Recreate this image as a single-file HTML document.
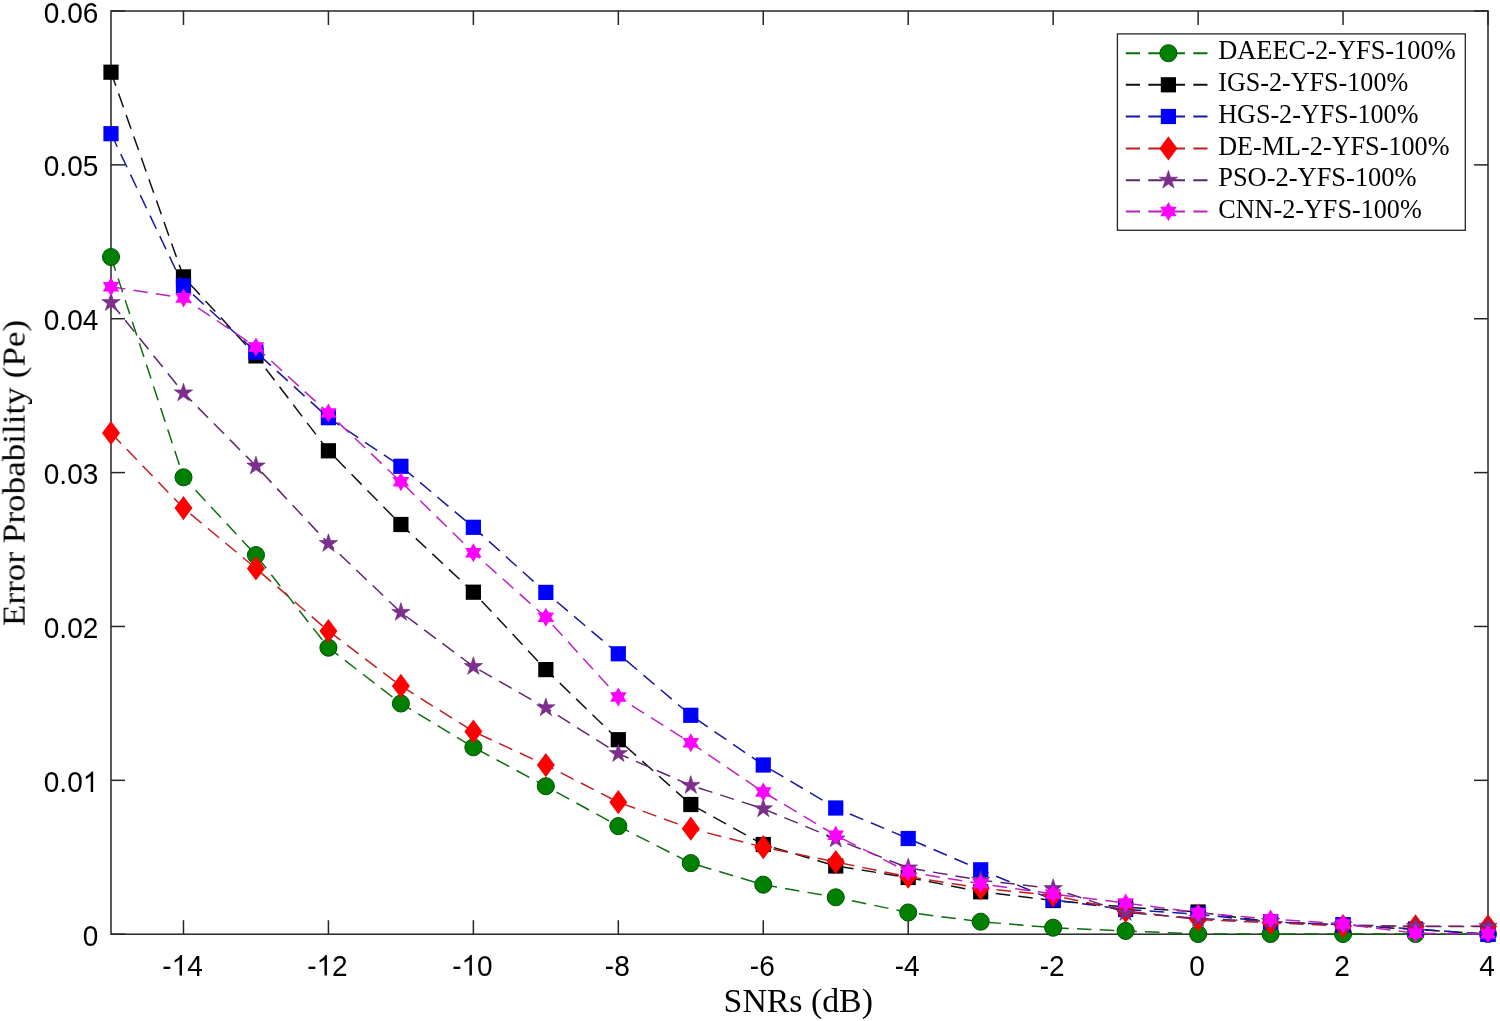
<!DOCTYPE html><html><head><meta charset="utf-8"><style>html,body{margin:0;padding:0;background:#fff;}svg{display:block;}</style></head><body>
<svg width="1500" height="1021" viewBox="0 0 1500 1021">
<rect width="1500" height="1021" fill="#ffffff"/>
<g stroke="#262626" stroke-width="1.5" fill="none">
<rect x="111.0" y="11.0" width="1377.0" height="923.2"/>
<line x1="183.47" y1="934.20" x2="183.47" y2="920.20"/>
<line x1="183.47" y1="11.00" x2="183.47" y2="25.00"/>
<line x1="328.42" y1="934.20" x2="328.42" y2="920.20"/>
<line x1="328.42" y1="11.00" x2="328.42" y2="25.00"/>
<line x1="473.37" y1="934.20" x2="473.37" y2="920.20"/>
<line x1="473.37" y1="11.00" x2="473.37" y2="25.00"/>
<line x1="618.32" y1="934.20" x2="618.32" y2="920.20"/>
<line x1="618.32" y1="11.00" x2="618.32" y2="25.00"/>
<line x1="763.26" y1="934.20" x2="763.26" y2="920.20"/>
<line x1="763.26" y1="11.00" x2="763.26" y2="25.00"/>
<line x1="908.21" y1="934.20" x2="908.21" y2="920.20"/>
<line x1="908.21" y1="11.00" x2="908.21" y2="25.00"/>
<line x1="1053.16" y1="934.20" x2="1053.16" y2="920.20"/>
<line x1="1053.16" y1="11.00" x2="1053.16" y2="25.00"/>
<line x1="1198.11" y1="934.20" x2="1198.11" y2="920.20"/>
<line x1="1198.11" y1="11.00" x2="1198.11" y2="25.00"/>
<line x1="1343.05" y1="934.20" x2="1343.05" y2="920.20"/>
<line x1="1343.05" y1="11.00" x2="1343.05" y2="25.00"/>
<line x1="1488.00" y1="934.20" x2="1488.00" y2="920.20"/>
<line x1="1488.00" y1="11.00" x2="1488.00" y2="25.00"/>
<line x1="111.00" y1="934.20" x2="125.00" y2="934.20"/>
<line x1="1488.00" y1="934.20" x2="1474.00" y2="934.20"/>
<line x1="111.00" y1="780.33" x2="125.00" y2="780.33"/>
<line x1="1488.00" y1="780.33" x2="1474.00" y2="780.33"/>
<line x1="111.00" y1="626.47" x2="125.00" y2="626.47"/>
<line x1="1488.00" y1="626.47" x2="1474.00" y2="626.47"/>
<line x1="111.00" y1="472.60" x2="125.00" y2="472.60"/>
<line x1="1488.00" y1="472.60" x2="1474.00" y2="472.60"/>
<line x1="111.00" y1="318.73" x2="125.00" y2="318.73"/>
<line x1="1488.00" y1="318.73" x2="1474.00" y2="318.73"/>
<line x1="111.00" y1="164.87" x2="125.00" y2="164.87"/>
<line x1="1488.00" y1="164.87" x2="1474.00" y2="164.87"/>
<line x1="111.00" y1="11.00" x2="125.00" y2="11.00"/>
<line x1="1488.00" y1="11.00" x2="1474.00" y2="11.00"/>
</g>
<g font-family="Liberation Sans, sans-serif" font-size="28" fill="#000" style="will-change:opacity">
<text transform="translate(162.24,975.50) scale(1,1.050)">-</text><path transform="translate(171.56,975.50) scale(0.01367,-0.01436)" d="M763 0L583 0L583 1110Q518 1050 413 990Q309 930 223 900L223 1070Q378 1140 494 1240Q610 1340 658 1420L763 1420Z"/><text transform="translate(187.14,975.50) scale(1,1.050)">4</text>
<text transform="translate(307.19,975.50) scale(1,1.050)">-</text><path transform="translate(316.51,975.50) scale(0.01367,-0.01436)" d="M763 0L583 0L583 1110Q518 1050 413 990Q309 930 223 900L223 1070Q378 1140 494 1240Q610 1340 658 1420L763 1420Z"/><text transform="translate(332.08,975.50) scale(1,1.050)">2</text>
<text transform="translate(452.13,975.50) scale(1,1.050)">-</text><path transform="translate(461.46,975.50) scale(0.01367,-0.01436)" d="M763 0L583 0L583 1110Q518 1050 413 990Q309 930 223 900L223 1070Q378 1140 494 1240Q610 1340 658 1420L763 1420Z"/><text transform="translate(477.03,975.50) scale(1,1.050)">0</text>
<text transform="translate(604.87,975.50) scale(1,1.050)">-</text><text transform="translate(614.19,975.50) scale(1,1.050)">8</text>
<text transform="translate(749.81,975.50) scale(1,1.050)">-</text><text transform="translate(759.14,975.50) scale(1,1.050)">6</text>
<text transform="translate(894.76,975.50) scale(1,1.050)">-</text><text transform="translate(904.09,975.50) scale(1,1.050)">4</text>
<text transform="translate(1039.71,975.50) scale(1,1.050)">-</text><text transform="translate(1049.03,975.50) scale(1,1.050)">2</text>
<text transform="translate(1189.32,975.50) scale(1,1.050)">0</text>
<text transform="translate(1334.27,975.50) scale(1,1.050)">2</text>
<text transform="translate(1479.21,975.50) scale(1,1.050)">4</text>
<text transform="translate(82.73,945.80) scale(1,1.050)">0</text>
<text transform="translate(43.80,791.93) scale(1,1.050)">0</text><text transform="translate(59.37,791.93) scale(1,1.050)">.</text><text transform="translate(67.15,791.93) scale(1,1.050)">0</text><path transform="translate(82.73,791.93) scale(0.01367,-0.01436)" d="M763 0L583 0L583 1110Q518 1050 413 990Q309 930 223 900L223 1070Q378 1140 494 1240Q610 1340 658 1420L763 1420Z"/>
<text transform="translate(43.80,638.07) scale(1,1.050)">0</text><text transform="translate(59.37,638.07) scale(1,1.050)">.</text><text transform="translate(67.15,638.07) scale(1,1.050)">0</text><text transform="translate(82.73,638.07) scale(1,1.050)">2</text>
<text transform="translate(43.80,484.20) scale(1,1.050)">0</text><text transform="translate(59.37,484.20) scale(1,1.050)">.</text><text transform="translate(67.15,484.20) scale(1,1.050)">0</text><text transform="translate(82.73,484.20) scale(1,1.050)">3</text>
<text transform="translate(43.80,330.33) scale(1,1.050)">0</text><text transform="translate(59.37,330.33) scale(1,1.050)">.</text><text transform="translate(67.15,330.33) scale(1,1.050)">0</text><text transform="translate(82.73,330.33) scale(1,1.050)">4</text>
<text transform="translate(43.80,176.47) scale(1,1.050)">0</text><text transform="translate(59.37,176.47) scale(1,1.050)">.</text><text transform="translate(67.15,176.47) scale(1,1.050)">0</text><text transform="translate(82.73,176.47) scale(1,1.050)">5</text>
<text transform="translate(43.80,22.60) scale(1,1.050)">0</text><text transform="translate(59.37,22.60) scale(1,1.050)">.</text><text transform="translate(67.15,22.60) scale(1,1.050)">0</text><text transform="translate(82.73,22.60) scale(1,1.050)">6</text>
</g>
<g font-family="Liberation Serif, serif" fill="#000" style="will-change:opacity">
<text x="723.6" y="1011.5" font-size="33" textLength="149.3" lengthAdjust="spacingAndGlyphs">SNRs (dB)</text>
<text transform="translate(24.6,626.1) rotate(-90)" x="0" y="0" font-size="32" textLength="306.2" lengthAdjust="spacingAndGlyphs">Error Probability (Pe)</text>
</g>
<g fill="none">
<polyline points="111.00,257.00 183.47,477.30 255.95,555.10 328.42,647.70 400.89,703.50 473.37,747.30 545.84,786.20 618.32,826.10 690.79,863.10 763.26,884.70 835.74,897.30 908.21,912.50 980.68,921.70 1053.16,927.70 1125.63,930.90 1198.11,934.00 1270.58,934.00 1343.05,934.00 1415.53,934.00 1488.00,934.00" stroke="#0b6e0b" stroke-width="1.5" stroke-dasharray="14.5 8.2" stroke-linecap="butt" stroke-linejoin="round" fill="none"/>
<circle cx="111.00" cy="257.00" r="8.55" fill="#008000" stroke="#005200" stroke-width="1.0"/>
<circle cx="183.47" cy="477.30" r="8.55" fill="#008000" stroke="#005200" stroke-width="1.0"/>
<circle cx="255.95" cy="555.10" r="8.55" fill="#008000" stroke="#005200" stroke-width="1.0"/>
<circle cx="328.42" cy="647.70" r="8.55" fill="#008000" stroke="#005200" stroke-width="1.0"/>
<circle cx="400.89" cy="703.50" r="8.55" fill="#008000" stroke="#005200" stroke-width="1.0"/>
<circle cx="473.37" cy="747.30" r="8.55" fill="#008000" stroke="#005200" stroke-width="1.0"/>
<circle cx="545.84" cy="786.20" r="8.55" fill="#008000" stroke="#005200" stroke-width="1.0"/>
<circle cx="618.32" cy="826.10" r="8.55" fill="#008000" stroke="#005200" stroke-width="1.0"/>
<circle cx="690.79" cy="863.10" r="8.55" fill="#008000" stroke="#005200" stroke-width="1.0"/>
<circle cx="763.26" cy="884.70" r="8.55" fill="#008000" stroke="#005200" stroke-width="1.0"/>
<circle cx="835.74" cy="897.30" r="8.55" fill="#008000" stroke="#005200" stroke-width="1.0"/>
<circle cx="908.21" cy="912.50" r="8.55" fill="#008000" stroke="#005200" stroke-width="1.0"/>
<circle cx="980.68" cy="921.70" r="8.55" fill="#008000" stroke="#005200" stroke-width="1.0"/>
<circle cx="1053.16" cy="927.70" r="8.55" fill="#008000" stroke="#005200" stroke-width="1.0"/>
<circle cx="1125.63" cy="930.90" r="8.55" fill="#008000" stroke="#005200" stroke-width="1.0"/>
<circle cx="1198.11" cy="934.00" r="8.55" fill="#008000" stroke="#005200" stroke-width="1.0"/>
<circle cx="1270.58" cy="934.00" r="8.55" fill="#008000" stroke="#005200" stroke-width="1.0"/>
<circle cx="1343.05" cy="934.00" r="8.55" fill="#008000" stroke="#005200" stroke-width="1.0"/>
<circle cx="1415.53" cy="934.00" r="8.55" fill="#008000" stroke="#005200" stroke-width="1.0"/>
<circle cx="1488.00" cy="934.00" r="8.55" fill="#008000" stroke="#005200" stroke-width="1.0"/>
<polyline points="111.00,72.20 183.47,276.90 255.95,355.90 328.42,450.80 400.89,524.50 473.37,592.20 545.84,669.60 618.32,739.70 690.79,804.50 763.26,844.50 835.74,866.00 908.21,877.50 980.68,891.80 1053.16,900.50 1125.63,907.00 1198.11,912.00 1270.58,922.00 1343.05,925.00 1415.53,929.50 1488.00,934.00" stroke="#111111" stroke-width="1.5" stroke-dasharray="14.5 8.2" stroke-linecap="butt" stroke-linejoin="round" fill="none"/>
<rect x="103.40" y="64.60" width="15.20" height="15.20" fill="#000000"/>
<rect x="175.87" y="269.30" width="15.20" height="15.20" fill="#000000"/>
<rect x="248.35" y="348.30" width="15.20" height="15.20" fill="#000000"/>
<rect x="320.82" y="443.20" width="15.20" height="15.20" fill="#000000"/>
<rect x="393.29" y="516.90" width="15.20" height="15.20" fill="#000000"/>
<rect x="465.77" y="584.60" width="15.20" height="15.20" fill="#000000"/>
<rect x="538.24" y="662.00" width="15.20" height="15.20" fill="#000000"/>
<rect x="610.72" y="732.10" width="15.20" height="15.20" fill="#000000"/>
<rect x="683.19" y="796.90" width="15.20" height="15.20" fill="#000000"/>
<rect x="755.66" y="836.90" width="15.20" height="15.20" fill="#000000"/>
<rect x="828.14" y="858.40" width="15.20" height="15.20" fill="#000000"/>
<rect x="900.61" y="869.90" width="15.20" height="15.20" fill="#000000"/>
<rect x="973.08" y="884.20" width="15.20" height="15.20" fill="#000000"/>
<rect x="1045.56" y="892.90" width="15.20" height="15.20" fill="#000000"/>
<rect x="1118.03" y="899.40" width="15.20" height="15.20" fill="#000000"/>
<rect x="1190.51" y="904.40" width="15.20" height="15.20" fill="#000000"/>
<rect x="1262.98" y="914.40" width="15.20" height="15.20" fill="#000000"/>
<rect x="1335.45" y="917.40" width="15.20" height="15.20" fill="#000000"/>
<rect x="1407.93" y="921.90" width="15.20" height="15.20" fill="#000000"/>
<rect x="1480.40" y="926.40" width="15.20" height="15.20" fill="#000000"/>
<polyline points="111.00,133.70 183.47,285.90 255.95,352.00 328.42,417.70 400.89,466.30 473.37,527.30 545.84,592.40 618.32,653.80 690.79,715.30 763.26,765.00 835.74,808.00 908.21,838.50 980.68,869.80 1053.16,899.80 1125.63,909.50 1198.11,914.30 1270.58,922.00 1343.05,924.70 1415.53,929.00 1488.00,934.40" stroke="#1616a8" stroke-width="1.5" stroke-dasharray="14.5 8.2" stroke-linecap="butt" stroke-linejoin="round" fill="none"/>
<rect x="103.40" y="126.10" width="15.20" height="15.20" fill="#0000ff"/>
<rect x="175.87" y="278.30" width="15.20" height="15.20" fill="#0000ff"/>
<rect x="248.35" y="344.40" width="15.20" height="15.20" fill="#0000ff"/>
<rect x="320.82" y="410.10" width="15.20" height="15.20" fill="#0000ff"/>
<rect x="393.29" y="458.70" width="15.20" height="15.20" fill="#0000ff"/>
<rect x="465.77" y="519.70" width="15.20" height="15.20" fill="#0000ff"/>
<rect x="538.24" y="584.80" width="15.20" height="15.20" fill="#0000ff"/>
<rect x="610.72" y="646.20" width="15.20" height="15.20" fill="#0000ff"/>
<rect x="683.19" y="707.70" width="15.20" height="15.20" fill="#0000ff"/>
<rect x="755.66" y="757.40" width="15.20" height="15.20" fill="#0000ff"/>
<rect x="828.14" y="800.40" width="15.20" height="15.20" fill="#0000ff"/>
<rect x="900.61" y="830.90" width="15.20" height="15.20" fill="#0000ff"/>
<rect x="973.08" y="862.20" width="15.20" height="15.20" fill="#0000ff"/>
<rect x="1045.56" y="892.20" width="15.20" height="15.20" fill="#0000ff"/>
<rect x="1118.03" y="901.90" width="15.20" height="15.20" fill="#0000ff"/>
<rect x="1190.51" y="906.70" width="15.20" height="15.20" fill="#0000ff"/>
<rect x="1262.98" y="914.40" width="15.20" height="15.20" fill="#0000ff"/>
<rect x="1335.45" y="917.10" width="15.20" height="15.20" fill="#0000ff"/>
<rect x="1407.93" y="921.40" width="15.20" height="15.20" fill="#0000ff"/>
<rect x="1480.40" y="926.80" width="15.20" height="15.20" fill="#0000ff"/>
<polyline points="111.00,433.00 183.47,508.10 255.95,568.40 328.42,631.00 400.89,685.90 473.37,731.50 545.84,765.10 618.32,802.20 690.79,828.70 763.26,847.20 835.74,862.00 908.21,876.70 980.68,888.20 1053.16,895.30 1125.63,911.00 1198.11,919.50 1270.58,922.80 1343.05,926.00 1415.53,926.30 1488.00,926.30" stroke="#c41c1c" stroke-width="1.5" stroke-dasharray="14.5 8.2" stroke-linecap="butt" stroke-linejoin="round" fill="none"/>
<polygon points="111.00,420.90 120.00,433.00 111.00,445.10 102.00,433.00" fill="#ff0000"/>
<polygon points="183.47,496.00 192.47,508.10 183.47,520.20 174.47,508.10" fill="#ff0000"/>
<polygon points="255.95,556.30 264.95,568.40 255.95,580.50 246.95,568.40" fill="#ff0000"/>
<polygon points="328.42,618.90 337.42,631.00 328.42,643.10 319.42,631.00" fill="#ff0000"/>
<polygon points="400.89,673.80 409.89,685.90 400.89,698.00 391.89,685.90" fill="#ff0000"/>
<polygon points="473.37,719.40 482.37,731.50 473.37,743.60 464.37,731.50" fill="#ff0000"/>
<polygon points="545.84,753.00 554.84,765.10 545.84,777.20 536.84,765.10" fill="#ff0000"/>
<polygon points="618.32,790.10 627.32,802.20 618.32,814.30 609.32,802.20" fill="#ff0000"/>
<polygon points="690.79,816.60 699.79,828.70 690.79,840.80 681.79,828.70" fill="#ff0000"/>
<polygon points="763.26,835.10 772.26,847.20 763.26,859.30 754.26,847.20" fill="#ff0000"/>
<polygon points="835.74,849.90 844.74,862.00 835.74,874.10 826.74,862.00" fill="#ff0000"/>
<polygon points="908.21,864.60 917.21,876.70 908.21,888.80 899.21,876.70" fill="#ff0000"/>
<polygon points="980.68,876.10 989.68,888.20 980.68,900.30 971.68,888.20" fill="#ff0000"/>
<polygon points="1053.16,883.20 1062.16,895.30 1053.16,907.40 1044.16,895.30" fill="#ff0000"/>
<polygon points="1125.63,898.90 1134.63,911.00 1125.63,923.10 1116.63,911.00" fill="#ff0000"/>
<polygon points="1198.11,907.40 1207.11,919.50 1198.11,931.60 1189.11,919.50" fill="#ff0000"/>
<polygon points="1270.58,910.70 1279.58,922.80 1270.58,934.90 1261.58,922.80" fill="#ff0000"/>
<polygon points="1343.05,913.90 1352.05,926.00 1343.05,938.10 1334.05,926.00" fill="#ff0000"/>
<polygon points="1415.53,914.20 1424.53,926.30 1415.53,938.40 1406.53,926.30" fill="#ff0000"/>
<polygon points="1488.00,914.20 1497.00,926.30 1488.00,938.40 1479.00,926.30" fill="#ff0000"/>
<polyline points="111.00,302.60 183.47,392.90 255.95,466.00 328.42,543.50 400.89,612.40 473.37,666.50 545.84,707.80 618.32,753.60 690.79,785.40 763.26,808.80 835.74,839.00 908.21,867.90 980.68,880.20 1053.16,888.50 1125.63,912.50 1198.11,918.50 1270.58,921.50 1343.05,925.00 1415.53,926.40 1488.00,926.40" stroke="#5e2470" stroke-width="1.5" stroke-dasharray="14.5 8.2" stroke-linecap="butt" stroke-linejoin="round" fill="none"/>
<polygon points="111.00,292.90 113.18,299.60 120.23,299.60 114.52,303.75 116.70,310.45 111.00,306.31 105.30,310.45 107.48,303.75 101.77,299.60 108.82,299.60" fill="#7e2f8e" stroke="#6a2478" stroke-width="0.6" stroke-linejoin="miter"/>
<polygon points="183.47,383.20 185.65,389.90 192.70,389.90 187.00,394.05 189.18,400.75 183.47,396.61 177.77,400.75 179.95,394.05 174.25,389.90 181.30,389.90" fill="#7e2f8e" stroke="#6a2478" stroke-width="0.6" stroke-linejoin="miter"/>
<polygon points="255.95,456.30 258.13,463.00 265.17,463.00 259.47,467.15 261.65,473.85 255.95,469.71 250.25,473.85 252.42,467.15 246.72,463.00 253.77,463.00" fill="#7e2f8e" stroke="#6a2478" stroke-width="0.6" stroke-linejoin="miter"/>
<polygon points="328.42,533.80 330.60,540.50 337.65,540.50 331.95,544.65 334.12,551.35 328.42,547.21 322.72,551.35 324.90,544.65 319.20,540.50 326.24,540.50" fill="#7e2f8e" stroke="#6a2478" stroke-width="0.6" stroke-linejoin="miter"/>
<polygon points="400.89,602.70 403.07,609.40 410.12,609.40 404.42,613.55 406.60,620.25 400.89,616.11 395.19,620.25 397.37,613.55 391.67,609.40 398.72,609.40" fill="#7e2f8e" stroke="#6a2478" stroke-width="0.6" stroke-linejoin="miter"/>
<polygon points="473.37,656.80 475.55,663.50 482.59,663.50 476.89,667.65 479.07,674.35 473.37,670.21 467.67,674.35 469.84,667.65 464.14,663.50 471.19,663.50" fill="#7e2f8e" stroke="#6a2478" stroke-width="0.6" stroke-linejoin="miter"/>
<polygon points="545.84,698.10 548.02,704.80 555.07,704.80 549.37,708.95 551.54,715.65 545.84,711.51 540.14,715.65 542.32,708.95 536.62,704.80 543.66,704.80" fill="#7e2f8e" stroke="#6a2478" stroke-width="0.6" stroke-linejoin="miter"/>
<polygon points="618.32,743.90 620.49,750.60 627.54,750.60 621.84,754.75 624.02,761.45 618.32,757.31 612.61,761.45 614.79,754.75 609.09,750.60 616.14,750.60" fill="#7e2f8e" stroke="#6a2478" stroke-width="0.6" stroke-linejoin="miter"/>
<polygon points="690.79,775.70 692.97,782.40 700.01,782.40 694.31,786.55 696.49,793.25 690.79,789.11 685.09,793.25 687.27,786.55 681.56,782.40 688.61,782.40" fill="#7e2f8e" stroke="#6a2478" stroke-width="0.6" stroke-linejoin="miter"/>
<polygon points="763.26,799.10 765.44,805.80 772.49,805.80 766.79,809.95 768.96,816.65 763.26,812.51 757.56,816.65 759.74,809.95 754.04,805.80 761.09,805.80" fill="#7e2f8e" stroke="#6a2478" stroke-width="0.6" stroke-linejoin="miter"/>
<polygon points="835.74,829.30 837.91,836.00 844.96,836.00 839.26,840.15 841.44,846.85 835.74,842.71 830.04,846.85 832.21,840.15 826.51,836.00 833.56,836.00" fill="#7e2f8e" stroke="#6a2478" stroke-width="0.6" stroke-linejoin="miter"/>
<polygon points="908.21,858.20 910.39,864.90 917.44,864.90 911.73,869.05 913.91,875.75 908.21,871.61 902.51,875.75 904.69,869.05 898.99,864.90 906.03,864.90" fill="#7e2f8e" stroke="#6a2478" stroke-width="0.6" stroke-linejoin="miter"/>
<polygon points="980.68,870.50 982.86,877.20 989.91,877.20 984.21,881.35 986.39,888.05 980.68,883.91 974.98,888.05 977.16,881.35 971.46,877.20 978.51,877.20" fill="#7e2f8e" stroke="#6a2478" stroke-width="0.6" stroke-linejoin="miter"/>
<polygon points="1053.16,878.80 1055.34,885.50 1062.38,885.50 1056.68,889.65 1058.86,896.35 1053.16,892.21 1047.46,896.35 1049.63,889.65 1043.93,885.50 1050.98,885.50" fill="#7e2f8e" stroke="#6a2478" stroke-width="0.6" stroke-linejoin="miter"/>
<polygon points="1125.63,902.80 1127.81,909.50 1134.86,909.50 1129.16,913.65 1131.33,920.35 1125.63,916.21 1119.93,920.35 1122.11,913.65 1116.41,909.50 1123.45,909.50" fill="#7e2f8e" stroke="#6a2478" stroke-width="0.6" stroke-linejoin="miter"/>
<polygon points="1198.11,908.80 1200.28,915.50 1207.33,915.50 1201.63,919.65 1203.81,926.35 1198.11,922.21 1192.40,926.35 1194.58,919.65 1188.88,915.50 1195.93,915.50" fill="#7e2f8e" stroke="#6a2478" stroke-width="0.6" stroke-linejoin="miter"/>
<polygon points="1270.58,911.80 1272.76,918.50 1279.80,918.50 1274.10,922.65 1276.28,929.35 1270.58,925.21 1264.88,929.35 1267.05,922.65 1261.35,918.50 1268.40,918.50" fill="#7e2f8e" stroke="#6a2478" stroke-width="0.6" stroke-linejoin="miter"/>
<polygon points="1343.05,915.30 1345.23,922.00 1352.28,922.00 1346.58,926.15 1348.75,932.85 1343.05,928.71 1337.35,932.85 1339.53,926.15 1333.83,922.00 1340.87,922.00" fill="#7e2f8e" stroke="#6a2478" stroke-width="0.6" stroke-linejoin="miter"/>
<polygon points="1415.53,916.70 1417.70,923.40 1424.75,923.40 1419.05,927.55 1421.23,934.25 1415.53,930.11 1409.82,934.25 1412.00,927.55 1406.30,923.40 1413.35,923.40" fill="#7e2f8e" stroke="#6a2478" stroke-width="0.6" stroke-linejoin="miter"/>
<polygon points="1488.00,916.70 1490.18,923.40 1497.23,923.40 1491.52,927.55 1493.70,934.25 1488.00,930.11 1482.30,934.25 1484.48,927.55 1478.77,923.40 1485.82,923.40" fill="#7e2f8e" stroke="#6a2478" stroke-width="0.6" stroke-linejoin="miter"/>
<polyline points="111.00,286.80 183.47,298.00 255.95,347.00 328.42,413.10 400.89,481.80 473.37,552.70 545.84,617.30 618.32,697.10 690.79,742.80 763.26,792.00 835.74,835.30 908.21,872.00 980.68,883.80 1053.16,894.00 1125.63,903.10 1198.11,912.70 1270.58,919.10 1343.05,923.90 1415.53,933.30 1488.00,934.00" stroke="#bc22c0" stroke-width="1.5" stroke-dasharray="14.5 8.2" stroke-linecap="butt" stroke-linejoin="round" fill="none"/>
<polygon points="111.00,277.30 113.74,282.05 119.23,282.05 116.48,286.80 119.23,291.55 113.74,291.55 111.00,296.30 108.26,291.55 102.77,291.55 105.52,286.80 102.77,282.05 108.26,282.05" fill="#ff00ff"/>
<polygon points="183.47,288.50 186.21,293.25 191.70,293.25 188.96,298.00 191.70,302.75 186.21,302.75 183.47,307.50 180.73,302.75 175.25,302.75 177.99,298.00 175.25,293.25 180.73,293.25" fill="#ff00ff"/>
<polygon points="255.95,337.50 258.69,342.25 264.17,342.25 261.43,347.00 264.17,351.75 258.69,351.75 255.95,356.50 253.21,351.75 247.72,351.75 250.47,347.00 247.72,342.25 253.21,342.25" fill="#ff00ff"/>
<polygon points="328.42,403.60 331.16,408.35 336.65,408.35 333.90,413.10 336.65,417.85 331.16,417.85 328.42,422.60 325.68,417.85 320.19,417.85 322.94,413.10 320.19,408.35 325.68,408.35" fill="#ff00ff"/>
<polygon points="400.89,472.30 403.64,477.05 409.12,477.05 406.38,481.80 409.12,486.55 403.64,486.55 400.89,491.30 398.15,486.55 392.67,486.55 395.41,481.80 392.67,477.05 398.15,477.05" fill="#ff00ff"/>
<polygon points="473.37,543.20 476.11,547.95 481.60,547.95 478.85,552.70 481.60,557.45 476.11,557.45 473.37,562.20 470.63,557.45 465.14,557.45 467.89,552.70 465.14,547.95 470.63,547.95" fill="#ff00ff"/>
<polygon points="545.84,607.80 548.58,612.55 554.07,612.55 551.32,617.30 554.07,622.05 548.58,622.05 545.84,626.80 543.10,622.05 537.61,622.05 540.36,617.30 537.61,612.55 543.10,612.55" fill="#ff00ff"/>
<polygon points="618.32,687.60 621.06,692.35 626.54,692.35 623.80,697.10 626.54,701.85 621.06,701.85 618.32,706.60 615.58,701.85 610.09,701.85 612.83,697.10 610.09,692.35 615.58,692.35" fill="#ff00ff"/>
<polygon points="690.79,733.30 693.53,738.05 699.02,738.05 696.27,742.80 699.02,747.55 693.53,747.55 690.79,752.30 688.05,747.55 682.56,747.55 685.31,742.80 682.56,738.05 688.05,738.05" fill="#ff00ff"/>
<polygon points="763.26,782.50 766.00,787.25 771.49,787.25 768.74,792.00 771.49,796.75 766.00,796.75 763.26,801.50 760.52,796.75 755.04,796.75 757.78,792.00 755.04,787.25 760.52,787.25" fill="#ff00ff"/>
<polygon points="835.74,825.80 838.48,830.55 843.96,830.55 841.22,835.30 843.96,840.05 838.48,840.05 835.74,844.80 833.00,840.05 827.51,840.05 830.26,835.30 827.51,830.55 833.00,830.55" fill="#ff00ff"/>
<polygon points="908.21,862.50 910.95,867.25 916.44,867.25 913.69,872.00 916.44,876.75 910.95,876.75 908.21,881.50 905.47,876.75 899.98,876.75 902.73,872.00 899.98,867.25 905.47,867.25" fill="#ff00ff"/>
<polygon points="980.68,874.30 983.42,879.05 988.91,879.05 986.17,883.80 988.91,888.55 983.42,888.55 980.68,893.30 977.94,888.55 972.46,888.55 975.20,883.80 972.46,879.05 977.94,879.05" fill="#ff00ff"/>
<polygon points="1053.16,884.50 1055.90,889.25 1061.39,889.25 1058.64,894.00 1061.39,898.75 1055.90,898.75 1053.16,903.50 1050.42,898.75 1044.93,898.75 1047.68,894.00 1044.93,889.25 1050.42,889.25" fill="#ff00ff"/>
<polygon points="1125.63,893.60 1128.37,898.35 1133.86,898.35 1131.11,903.10 1133.86,907.85 1128.37,907.85 1125.63,912.60 1122.89,907.85 1117.40,907.85 1120.15,903.10 1117.40,898.35 1122.89,898.35" fill="#ff00ff"/>
<polygon points="1198.11,903.20 1200.85,907.95 1206.33,907.95 1203.59,912.70 1206.33,917.45 1200.85,917.45 1198.11,922.20 1195.36,917.45 1189.88,917.45 1192.62,912.70 1189.88,907.95 1195.36,907.95" fill="#ff00ff"/>
<polygon points="1270.58,909.60 1273.32,914.35 1278.81,914.35 1276.06,919.10 1278.81,923.85 1273.32,923.85 1270.58,928.60 1267.84,923.85 1262.35,923.85 1265.10,919.10 1262.35,914.35 1267.84,914.35" fill="#ff00ff"/>
<polygon points="1343.05,914.40 1345.79,919.15 1351.28,919.15 1348.53,923.90 1351.28,928.65 1345.79,928.65 1343.05,933.40 1340.31,928.65 1334.83,928.65 1337.57,923.90 1334.83,919.15 1340.31,919.15" fill="#ff00ff"/>
<polygon points="1415.53,923.80 1418.27,928.55 1423.75,928.55 1421.01,933.30 1423.75,938.05 1418.27,938.05 1415.53,942.80 1412.79,938.05 1407.30,938.05 1410.04,933.30 1407.30,928.55 1412.79,928.55" fill="#ff00ff"/>
<polygon points="1488.00,924.50 1490.74,929.25 1496.23,929.25 1493.48,934.00 1496.23,938.75 1490.74,938.75 1488.00,943.50 1485.26,938.75 1479.77,938.75 1482.52,934.00 1479.77,929.25 1485.26,929.25" fill="#ff00ff"/>
</g>
<rect x="1117.4" y="33.9" width="347.9" height="196.4" fill="#fff" stroke="#262626" stroke-width="1.3"/>
<line x1="1125.8" y1="53.20" x2="1208.4" y2="53.20" stroke="#0b6e0b" stroke-width="2.0" stroke-dasharray="14.2 8.3"/>
<circle cx="1168.40" cy="53.20" r="8.55" fill="#008000" stroke="#005200" stroke-width="1.0"/>
<line x1="1125.8" y1="84.80" x2="1208.4" y2="84.80" stroke="#111111" stroke-width="2.0" stroke-dasharray="14.2 8.3"/>
<rect x="1160.80" y="77.20" width="15.20" height="15.20" fill="#000000"/>
<line x1="1125.8" y1="116.50" x2="1208.4" y2="116.50" stroke="#1616a8" stroke-width="2.0" stroke-dasharray="14.2 8.3"/>
<rect x="1160.80" y="108.90" width="15.20" height="15.20" fill="#0000ff"/>
<line x1="1125.8" y1="148.40" x2="1208.4" y2="148.40" stroke="#c41c1c" stroke-width="2.0" stroke-dasharray="14.2 8.3"/>
<polygon points="1168.40,136.30 1177.40,148.40 1168.40,160.50 1159.40,148.40" fill="#ff0000"/>
<line x1="1125.8" y1="180.20" x2="1208.4" y2="180.20" stroke="#5e2470" stroke-width="2.0" stroke-dasharray="14.2 8.3"/>
<polygon points="1168.40,170.50 1170.58,177.20 1177.63,177.20 1171.92,181.35 1174.10,188.05 1168.40,183.91 1162.70,188.05 1164.88,181.35 1159.17,177.20 1166.22,177.20" fill="#7e2f8e" stroke="#6a2478" stroke-width="0.6" stroke-linejoin="miter"/>
<line x1="1125.8" y1="211.50" x2="1208.4" y2="211.50" stroke="#bc22c0" stroke-width="2.0" stroke-dasharray="14.2 8.3"/>
<polygon points="1168.40,202.00 1171.14,206.75 1176.63,206.75 1173.88,211.50 1176.63,216.25 1171.14,216.25 1168.40,221.00 1165.66,216.25 1160.17,216.25 1162.92,211.50 1160.17,206.75 1165.66,206.75" fill="#ff00ff"/>
<g font-family="Liberation Serif, serif" font-size="26.5" fill="#000" style="will-change:opacity">
<text x="1218.2" y="59.40" textLength="237.5" lengthAdjust="spacingAndGlyphs">DAEEC-2-YFS-100%</text>
<text x="1218.2" y="91.00" textLength="190.0" lengthAdjust="spacingAndGlyphs">IGS-2-YFS-100%</text>
<text x="1218.2" y="122.70" textLength="200.2" lengthAdjust="spacingAndGlyphs">HGS-2-YFS-100%</text>
<text x="1218.2" y="154.60" textLength="231.3" lengthAdjust="spacingAndGlyphs">DE-ML-2-YFS-100%</text>
<text x="1218.2" y="186.40" textLength="198.4" lengthAdjust="spacingAndGlyphs">PSO-2-YFS-100%</text>
<text x="1218.2" y="217.70" textLength="203.5" lengthAdjust="spacingAndGlyphs">CNN-2-YFS-100%</text>
</g>
</svg></body></html>
